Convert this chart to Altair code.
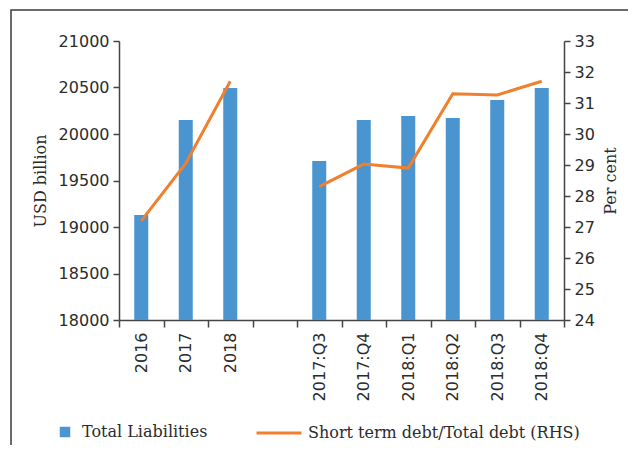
import altair as alt
import pandas as pd

categories = ["2016", "2017", "2018", " ", "2017:Q3", "2017:Q4", "2018:Q1", "2018:Q2", "2018:Q3", "2018:Q4"]
liabilities = [19130, 20150, 20495, None, 19710, 20150, 20194, 20172, 20366, 20495]
short_term_share = [27.2, 29.05, 31.7, None, 28.3, 29.03, 28.9, 31.3, 31.26, 31.7]
segment = ["annual", "annual", "annual", None, "quarterly", "quarterly", "quarterly", "quarterly", "quarterly", "quarterly"]

bar_name = "Total Liabilities"
line_name = "Short term debt/Total debt (RHS)"

df = pd.DataFrame({"cat": categories, "liab": liabilities, "share": short_term_share, "seg": segment})
df["s1"] = bar_name
df["s2"] = line_name

SANS = "DejaVu Sans"
SERIF = "DejaVu Serif"
AXC = "#444444"
TXT = "#2b2b2b"

x_enc = alt.X("cat:N", sort=categories,
              scale=alt.Scale(domain=categories, paddingInner=0, paddingOuter=0),
              axis=alt.Axis(title=None, labelAngle=-90, tickBand="extent", labelFont=SANS,
                            labelFontSize=16, labelColor=TXT, domainColor=AXC, tickColor=AXC,
                            domainWidth=1.5, tickWidth=1.5, tickSize=7, labelPadding=5))

base = alt.Chart(df)

bars = base.transform_filter("datum.liab != null").mark_bar(size=14, clip=True).encode(
    x=x_enc,
    y=alt.Y("liab:Q", scale=alt.Scale(domain=[18000, 21000], nice=False, zero=False),
            axis=alt.Axis(title="USD billion", values=list(range(18000, 21001, 500)), grid=False,
                          labelFont=SANS, labelFontSize=16, labelColor=TXT, titleFont=SERIF,
                          titleFontSize=16, titleFontWeight="normal", titleColor=TXT,
                          domainColor=AXC, tickColor=AXC, domainWidth=1.5, tickWidth=1.5,
                          tickSize=6, labelPadding=4, titlePadding=10, format="d")),
    fill=alt.Fill("s1:N", scale=alt.Scale(domain=[bar_name], range=["#4a94d0"]),
                  legend=alt.Legend(title=None, orient="none", legendX=-62, legendY=383,
                                    symbolType="square", symbolSize=110, labelFont=SERIF,
                                    labelFontSize=16, labelColor=TXT, labelOffset=9,
                                    symbolStrokeWidth=0, labelLimit=400)),
)

line = base.transform_filter("datum.share != null").mark_line(strokeWidth=3).encode(
    x=x_enc,
    y=alt.Y("share:Q", scale=alt.Scale(domain=[24, 33], nice=False, zero=False),
            axis=alt.Axis(title="Per cent", orient="right", values=list(range(24, 34)), grid=False,
                          labelFont=SANS, labelFontSize=16, labelColor=TXT, titleFont=SERIF,
                          titleFontSize=16, titleFontWeight="normal", titleColor=TXT, titleAngle=270,
                          titleBaseline="top",
                          domainColor=AXC, tickColor=AXC, domainWidth=1.5, tickWidth=1.5,
                          tickSize=6, labelPadding=4, titlePadding=8)),
    detail="seg:N",
    stroke=alt.Stroke("s2:N", scale=alt.Scale(domain=[line_name], range=["#f07f2e"]),
                      legend=alt.Legend(title=None, orient="none", legendX=136, legendY=368,
                                        symbolType="stroke", symbolSize=2025, symbolStrokeWidth=3,
                                        labelFont=SERIF, labelFontSize=16, labelColor=TXT,
                                        labelOffset=5, labelLimit=400)),
)

frame = alt.Chart(alt.Data(values=[{}])).mark_rect(fill=None, stroke="#3a3a3a", strokeWidth=1.5).encode(
    x=alt.value(-108), x2=alt.value(530), y=alt.value(-31), y2=alt.value(430)
)

chart = alt.layer(bars, line, frame).resolve_scale(y="independent", fill="independent", stroke="independent").properties(
    width=445, height=279,
    autosize=alt.AutoSizeParams(type="none"),
    padding={"left": 111, "top": 33, "right": 64, "bottom": 125},
).configure_view(stroke=None)

chart.save("out.html", embed_options={"renderer": "svg", "actions": False})
